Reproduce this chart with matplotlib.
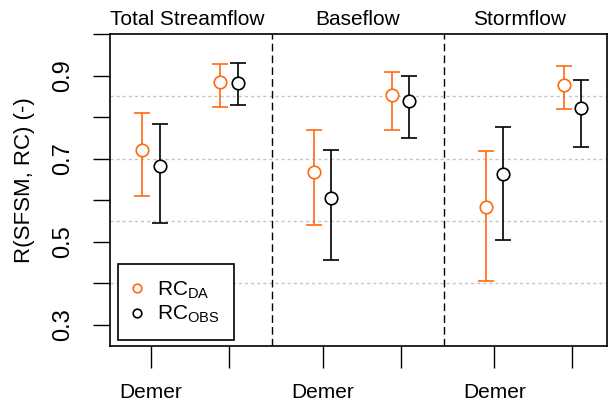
import matplotlib
matplotlib.use("Agg")
import matplotlib.pyplot as plt
from matplotlib.lines import Line2D
import numpy as np

plt.rcParams['font.family'] = ['Liberation Sans', 'DejaVu Sans']
plt.rcParams['mathtext.fontset'] = 'custom'
plt.rcParams['mathtext.rm'] = 'Liberation Sans'
plt.rcParams['mathtext.it'] = 'Liberation Sans:italic'
plt.rcParams['mathtext.bf'] = 'Liberation Sans:bold'

# Flow components (panels) and catchments
components = ["Total Streamflow", "Baseflow", "Stormflow"]
catchment_labels = ["Demer", ""]

# Correlation R(SFSM, RC): median and interval bounds, per component and catchment
rc_da_mid = [[0.721, 0.885], [0.669, 0.853], [0.583, 0.878]]
rc_da_lo = [[0.609, 0.825], [0.541, 0.768], [0.406, 0.820]]
rc_da_hi = [[0.811, 0.928], [0.768, 0.909], [0.718, 0.922]]

rc_obs_mid = [[0.682, 0.882], [0.606, 0.838], [0.664, 0.822]]
rc_obs_lo = [[0.546, 0.829], [0.455, 0.750], [0.504, 0.729]]
rc_obs_hi = [[0.783, 0.930], [0.721, 0.898], [0.777, 0.889]]

y_ticks = [0.3, 0.4, 0.5, 0.6, 0.7, 0.8, 0.9, 1.0]
y_ticklabels = ["0.3", "", "0.5", "", "0.7", "", "0.9", ""]
grid_levels = [0.4, 0.55, 0.7, 0.85]

orange = "#FF6A10"

fig = plt.figure(figsize=(6.09, 4.03), dpi=100)
ax = fig.add_axes([110 / 609, 1 - 346 / 403, 497 / 609, 312 / 403])

group_start = [1.0, 3.2, 5.4]
title_x = [1.47, 3.65, 5.73]
separators = [2.55, 4.76]
xpos = np.array([[g, g + 1.0] for g in group_start])
offset = 0.11

for lvl in grid_levels:
    ax.axhline(lvl, color="#C4C4C4", lw=1.0, ls=(0, (2.2, 2.2)), zorder=0)

for sep in separators:
    ax.axvline(sep, color="black", lw=1.0, ls=(0, (5.5, 3)), zorder=1)

def draw_series(mid, lo, hi, dx, color):
    mid = np.array(mid); lo = np.array(lo); hi = np.array(hi)
    x = (xpos + dx).ravel()
    m = mid.ravel()
    yerr = np.vstack([m - lo.ravel(), hi.ravel() - m])
    ax.errorbar(x, m, yerr=yerr, fmt="o", mfc="white", mec=color, ecolor=color,
                ms=9, mew=1.2, elinewidth=1.2, capsize=5.5, capthick=1.2, zorder=3)

draw_series(rc_da_mid, rc_da_lo, rc_da_hi, -offset, orange)
draw_series(rc_obs_mid, rc_obs_lo, rc_obs_hi, offset, "black")

ax.set_xlim(0.474, 6.846)
ax.set_ylim(0.249, 0.997)

ax.set_xticks(xpos.ravel())
ax.set_xticklabels(catchment_labels * 3, fontsize=15)
ax.tick_params(axis="x", length=16, width=1.0, pad=11)

ax.set_yticks(y_ticks)
ax.set_yticklabels(y_ticklabels, fontsize=17, rotation=90, va="center")
ax.tick_params(axis="y", length=12.5, width=1.0, pad=13)

for s in ax.spines.values():
    s.set_linewidth(1.2)

for name, tx in zip(components, title_x):
    ax.text(tx, 1.0 + 0.016, name, ha="center", va="bottom", fontsize=15,
            transform=ax.get_xaxis_transform())

fig.text(25 / 609, 1 - 180 / 403, "R(SFSM, RC) (-)", rotation=90, fontsize=16,
         ha="center", va="center")

# Legend with subscripted labels
handles = [Line2D([], [], ls="none", marker="o", ms=6.2, mfc="white", mec=orange, mew=1.2),
           Line2D([], [], ls="none", marker="o", ms=6.2, mfc="white", mec="black", mew=1.2)]
leg = ax.legend(handles, [r"RC$_{\mathrm{DA}}$", r"RC$_{\mathrm{OBS}}$"],
                loc="lower left", bbox_to_anchor=(0.016, 0.018), fontsize=15,
                frameon=True, fancybox=False, edgecolor="black", framealpha=1,
                handletextpad=0.74, handlelength=0.4, borderpad=0.72, labelspacing=0.16,
                borderaxespad=0)
leg.get_frame().set_linewidth(1.2)

fig.savefig("out.png", dpi=100)
